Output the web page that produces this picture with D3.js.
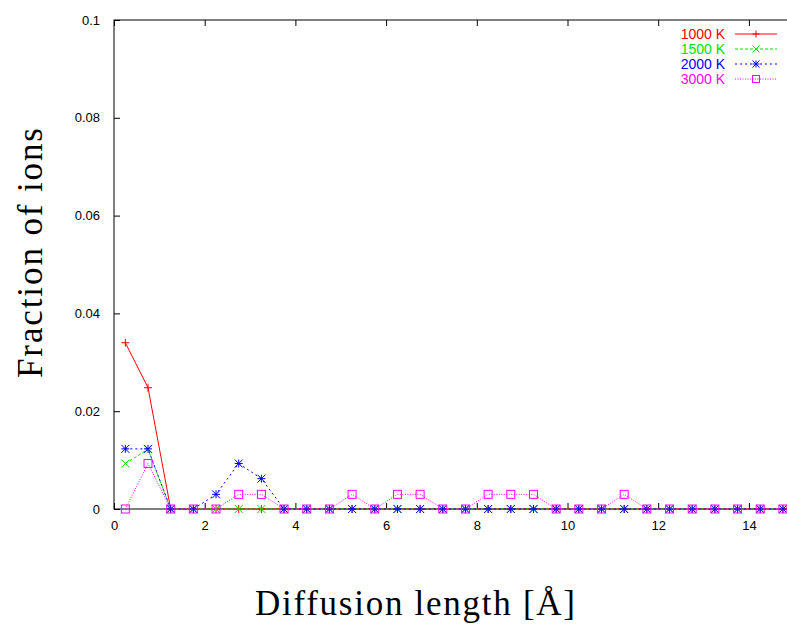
<!DOCTYPE html>
<html>
<head>
<meta charset="utf-8">
<script src="https://cdn.jsdelivr.net/npm/d3@7"></script>
<style>
  body { margin: 0; background: #fff; }
  svg { display: block; }
</style>
</head>
<body>
<div class="chart"></div>
<script>
const positions = [0.25, 0.75, 1.25, 1.75, 2.25, 2.75, 3.25, 3.75, 4.25, 4.75,
    5.25, 5.75, 6.25, 6.75, 7.25, 7.75, 8.25, 8.75, 9.25, 9.75,
    10.25, 10.75, 11.25, 11.75, 12.25, 12.75, 13.25, 13.75, 14.25, 14.75];

const frac1000 = [0.034, 0.0248, 0, 0, 0, 0, 0, 0, 0, 0, 0, 0, 0, 0, 0, 0, 0, 0, 0, 0, 0, 0, 0, 0, 0, 0, 0, 0, 0, 0];
const frac1500 = [0.0093, 0.0122, 0, 0, 0, 0, 0, 0, 0, 0, 0, 0, 0, 0, 0, 0, 0, 0, 0, 0, 0, 0, 0, 0, 0, 0, 0, 0, 0, 0];
const frac2000 = [0.0123, 0.0123, 0, 0, 0.003, 0.0093, 0.0062, 0, 0, 0, 0, 0, 0, 0, 0, 0, 0, 0, 0, 0, 0, 0, 0, 0, 0, 0, 0, 0, 0, 0];
const frac3000 = [0, 0.0093, 0, 0, 0, 0.003, 0.003, 0, 0, 0, 0.003, 0, 0.003, 0.003, 0, 0, 0.003, 0.003, 0.003, 0, 0, 0, 0.003, 0, 0, 0, 0, 0, 0, 0];

const seriesNames = ['1000 K', '1500 K', '2000 K', '3000 K'];
const xTicks = [0, 2, 4, 6, 8, 10, 12, 14];
const yTicks = [0, 0.02, 0.04, 0.06, 0.08, 0.1];

const width = 787, height = 625;
const plotLeft = 114, plotTop = 20, plotBottom = 509;

const series = [
    { name: seriesNames[0], values: frac1000, color: '#ff0000', dash: null, marker: 'plus' },
    { name: seriesNames[1], values: frac1500, color: '#00e000', dash: '3,2', marker: 'cross' },
    { name: seriesNames[2], values: frac2000, color: '#0000ff', dash: '2,3', marker: 'star' },
    { name: seriesNames[3], values: frac3000, color: '#ff00ff', dash: '1,1.5', marker: 'square' }
];

const svg = d3.select('.chart').append('svg')
    .attr('width', width)
    .attr('height', height);

const x = d3.scaleLinear().domain([0, 15]).range([plotLeft, plotLeft + 15 * 45.35]);
const y = d3.scaleLinear().domain([0, 0.1]).range([plotBottom, plotTop]);
const plotRight = x(15);

// frame
svg.append('rect')
    .attr('x', plotLeft).attr('y', plotTop)
    .attr('width', plotRight - plotLeft).attr('height', plotBottom - plotTop)
    .attr('fill', 'none').attr('stroke', '#000').attr('stroke-width', 1);

const tickFont = g => g.selectAll('text')
    .attr('font-family', 'Liberation Sans, Arial, sans-serif')
    .attr('font-size', 13)
    .attr('fill', '#000');

svg.append('g')
    .attr('class', 'x-axis')
    .attr('transform', `translate(0, ${plotBottom})`)
    .call(d3.axisBottom(x).tickValues(xTicks).tickSize(-6).tickPadding(12).tickFormat(d3.format('d')))
    .call(g => g.select('.domain').remove())
    .call(tickFont);

svg.append('g')
    .attr('transform', `translate(0, ${plotTop})`)
    .call(d3.axisTop(x).tickValues(xTicks).tickSize(-6).tickFormat(''))
    .call(g => g.select('.domain').remove());

svg.append('g')
    .attr('class', 'y-axis')
    .attr('transform', `translate(${plotLeft}, 0)`)
    .call(d3.axisLeft(y).tickValues(yTicks).tickSize(-6).tickPadding(14).tickFormat(d => d === 0 ? '0' : d3.format('~g')(d)))
    .call(g => g.select('.domain').remove())
    .call(tickFont);

const line = d3.line()
    .x((d, i) => x(positions[i]))
    .y(d => y(d));

function drawMarker(g, type, color, cx, cy, s) {
    if (type === 'plus' || type === 'star') {
        g.append('path').attr('d', `M${cx - s},${cy}H${cx + s}M${cx},${cy - s}V${cy + s}`)
            .attr('stroke', color).attr('stroke-width', 1).attr('fill', 'none');
    }
    if (type === 'cross' || type === 'star') {
        g.append('path').attr('d', `M${cx - s},${cy - s}L${cx + s},${cy + s}M${cx - s},${cy + s}L${cx + s},${cy - s}`)
            .attr('stroke', color).attr('stroke-width', 1).attr('fill', 'none');
    }
    if (type === 'square') {
        g.append('rect').attr('x', cx - s).attr('y', cy - s).attr('width', 2 * s).attr('height', 2 * s)
            .attr('stroke', color).attr('stroke-width', 1).attr('fill', 'none');
    }
}

const plot = svg.append('g');
series.forEach(s => {
    const g = plot.append('g');
    g.append('path')
        .attr('d', line(s.values))
        .attr('fill', 'none')
        .attr('stroke', s.color)
        .attr('stroke-width', 1)
        .attr('stroke-dasharray', s.dash);
    s.values.forEach((v, i) => drawMarker(g, s.marker, s.color, x(positions[i]), y(v), 4));
});

// legend
const legend = svg.append('g');
series.forEach((s, i) => {
    const ly = 34 + i * 15;
    legend.append('text')
        .attr('x', 725).attr('y', ly + 5)
        .attr('text-anchor', 'end')
        .attr('font-family', 'Liberation Sans, Arial, sans-serif')
        .attr('font-size', 14)
        .attr('fill', s.color)
        .text(s.name);
    legend.append('line')
        .attr('x1', 735).attr('x2', 777).attr('y1', ly).attr('y2', ly)
        .attr('stroke', s.color).attr('stroke-width', 1)
        .attr('stroke-dasharray', s.dash);
    drawMarker(legend, s.marker, s.color, 756, ly, 3.5);
});

// axis titles
svg.append('text')
    .attr('x', 255).attr('y', 615)
    .attr('textLength', 320)
    .attr('lengthAdjust', 'spacing')
    .attr('font-family', 'Liberation Serif, DejaVu Serif, serif')
    .attr('font-size', 35)
    .text('Diffusion length [Å]');

svg.append('text')
    .attr('transform', 'translate(42, 378) rotate(-90)')
    .attr('textLength', 250)
    .attr('lengthAdjust', 'spacing')
    .attr('font-family', 'Liberation Serif, DejaVu Serif, serif')
    .attr('font-size', 35)
    .text('Fraction of ions');
</script>
</body>
</html>
